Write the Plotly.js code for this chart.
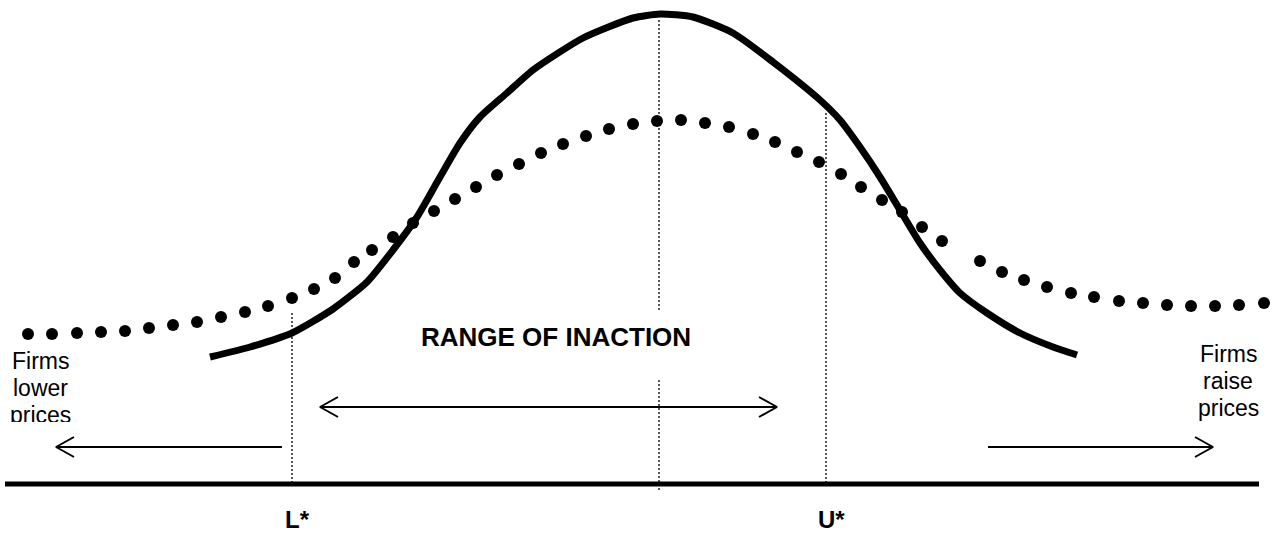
<!DOCTYPE html>
<html>
<head>
<meta charset="utf-8">
<script src="https://cdn.plot.ly/plotly-3.0.1.min.js"></script>
<style>
  html, body { margin: 0; padding: 0; background: #fff; }
  #plot { width: 1272px; height: 533px; }
</style>
</head>
<body>
<div id="plot"></div>
<script>
// =========================
// Data
// =========================
// x: gap between actual and desired price (0 = optimum)
// y: density of firms
const dotX = [-6.31, -6.07, -5.82, -5.58, -5.34, -5.10, -4.86, -4.62, -4.38, -4.14,
  -3.91, -3.67, -3.45, -3.24, -3.05, -2.87, -2.66, -2.46, -2.25, -2.04,
  -1.83, -1.62, -1.40, -1.18, -0.96, -0.73, -0.50, -0.26, -0.02, 0.22,
  0.46, 0.70, 0.94, 1.16, 1.38, 1.60, 1.82, 2.02, 2.23, 2.43,
  2.63, 2.83, 3.21, 3.43, 3.65, 3.88, 4.12, 4.35, 4.60, 4.84,
  5.08, 5.32, 5.56, 5.80, 6.05];
const dotY = [1.50, 1.50, 1.51, 1.52, 1.53, 1.56, 1.59, 1.62, 1.67, 1.72,
  1.78, 1.86, 1.95, 2.06, 2.22, 2.34, 2.47, 2.61, 2.73, 2.85,
  2.97, 3.09, 3.20, 3.31, 3.40, 3.48, 3.55, 3.60, 3.63, 3.64,
  3.61, 3.57, 3.50, 3.42, 3.32, 3.22, 3.10, 2.97, 2.84, 2.72,
  2.57, 2.43, 2.23, 2.12, 2.04, 1.97, 1.91, 1.87, 1.83, 1.81,
  1.79, 1.78, 1.78, 1.79, 1.81];

const curveX = [-4.49, -4.09, -3.67, -3.26, -2.92, -2.66, -2.42, -2.19, -1.99, -1.79,
  -1.52, -1.26, -0.76, -0.26, 0.01, 0.34, 0.74, 1.14, 1.61, 1.81,
  2.01, 2.21, 2.41, 2.61, 2.81, 3.01, 3.28, 3.61, 3.94, 4.18];
const curveY = [1.27, 1.37, 1.51, 1.75, 2.02, 2.34, 2.67, 3.07, 3.41, 3.67,
  3.91, 4.14, 4.46, 4.66, 4.70, 4.67, 4.51, 4.22, 3.84, 3.64,
  3.37, 3.07, 2.74, 2.41, 2.14, 1.91, 1.71, 1.51, 1.37, 1.29];

const bandLabels = ['L*', 'U*'];
const bandX = [-3.67, 1.67];
const bandTop = [1.71, 3.71];
const optimumX = 0;
const optimumSpans = [[4.64, 1.74], [1.04, -0.08]];

const axisSpan = [-6.54, 6.00];
const inactionArrow = [-3.39, 1.18];
const inactionLevel = 0.77;
const lowerArrow = [-3.77, -6.03];
const raiseArrow = [3.29, 5.54];
const sideLevel = 0.37;

const lowerText = ['Firms', 'lower', 'prices'];
const raiseText = ['Firms', 'raise', 'prices'];

// =========================
// Helper Functions
// =========================
const FONT = 'Liberation Sans, Arial, sans-serif';
const LINE_STEP = 0.27;

function chevron(xTip, y, dir) {
  return {
    x: [xTip - dir * 0.18, xTip, xTip - dir * 0.18, null],
    y: [y + 0.10, y, y - 0.10, null]
  };
}

function arrowTrace(from, to, y, both) {
  const dir = Math.sign(to - from);
  let xs = [from, to, null], ys = [y, y, null];
  const head = chevron(to, y, dir);
  xs = xs.concat(head.x); ys = ys.concat(head.y);
  if (both) {
    const tail = chevron(from, y, -dir);
    xs = xs.concat(tail.x); ys = ys.concat(tail.y);
  }
  return {
    type: 'scatter', mode: 'lines', x: xs, y: ys,
    line: { color: '#000', width: 2 }, hoverinfo: 'skip'
  };
}

function dottedLine(x, y0, y1) {
  return {
    type: 'scatter', mode: 'lines', x: [x, x], y: [y0, y1],
    line: { color: '#000', width: 1.3, dash: '2px,2px' }, hoverinfo: 'skip'
  };
}

// stacked lines of text; clipLast cuts the bottom of the last line (as in the source)
function textBlock(lines, x, yTop, clipLast) {
  return lines.map((t, i) => {
    const ann = {
      text: t, x: x, y: yTop - i * LINE_STEP,
      xanchor: 'center', yanchor: 'top', valign: 'top', showarrow: false,
      font: { family: FONT, size: 23, color: '#000' }
    };
    if (clipLast && i === lines.length - 1) ann.height = 20;
    return ann;
  });
}

// =========================
// Plotting Logic
// =========================
const data = [
  dottedLine(bandX[0], bandTop[0], 0),
  dottedLine(bandX[1], bandTop[1], 0),
  dottedLine(optimumX, optimumSpans[0][0], optimumSpans[0][1]),
  dottedLine(optimumX, optimumSpans[1][0], optimumSpans[1][1]),
  {
    type: 'scatter', mode: 'lines', x: axisSpan, y: [0, 0],
    line: { color: '#000', width: 5 }, hoverinfo: 'skip'
  },
  {
    type: 'scatter', mode: 'lines', x: curveX, y: curveY,
    line: { color: '#000', width: 7, shape: 'spline', smoothing: 0.6 },
    hoverinfo: 'skip'
  },
  {
    type: 'scatter', mode: 'markers', x: dotX, y: dotY,
    marker: { color: '#000', size: 12 }, hoverinfo: 'skip'
  },
  arrowTrace(inactionArrow[0], inactionArrow[1], inactionLevel, true),
  arrowTrace(lowerArrow[0], lowerArrow[1], sideLevel, false),
  arrowTrace(raiseArrow[0], raiseArrow[1], sideLevel, false)
];

let annotations = [
  {
    text: '<b>RANGE OF INACTION</b>', x: -1.035, y: 1.47,
    xanchor: 'center', yanchor: 'middle', showarrow: false,
    font: { family: FONT, size: 26, color: '#000' }
  }
];
annotations = annotations
  .concat(textBlock(lowerText, -6.19, 1.38, true))
  .concat(textBlock(raiseText, 5.69, 1.45, false));

bandLabels.forEach((lab, i) => {
  annotations.push({
    text: '<b>' + lab + '</b>', x: bandX[i] + 0.05, y: -0.35,
    xanchor: 'center', yanchor: 'middle', showarrow: false,
    font: { family: FONT, size: 24, color: '#000' }
  });
});

const layout = {
  width: 1272, height: 533,
  margin: { l: 0, r: 0, t: 0, b: 0 },
  paper_bgcolor: '#fff', plot_bgcolor: '#fff',
  showlegend: false,
  xaxis: { range: [-6.59, 6.13], visible: false, fixedrange: true },
  yaxis: { range: [-0.49, 4.84], visible: false, fixedrange: true },
  annotations: annotations
};

Plotly.newPlot('plot', data, layout, { displayModeBar: false, staticPlot: true });
</script>
</body>
</html>
